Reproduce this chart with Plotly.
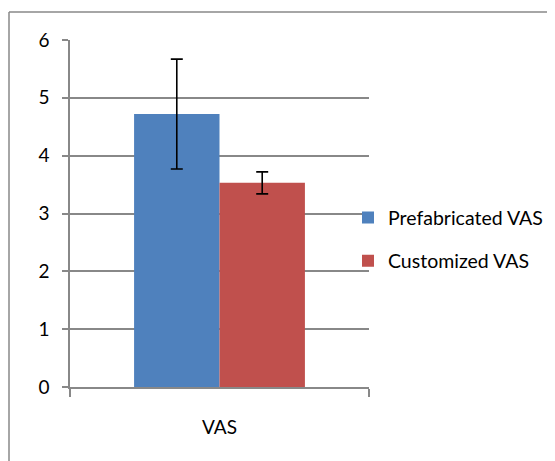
import plotly.graph_objects as go

categories = ["VAS"]
series_names = ["Prefabricated VAS", "Customized VAS"]
prefab_values = [4.72]
prefab_err = [0.95]
custom_values = [3.53]
custom_err = [0.19]
y_ticks = [0, 1, 2, 3, 4, 5, 6]

colors = ["#4F81BD", "#C0504D"]
grid = "#888888"
font_family = "Lato, 'Open Sans', sans-serif"

# page body has an 8px margin, so the figure is sized to fit the window
W, H = 547, 453
L, R, T, B = 62, 186, 32, 73.7
pw = W - L - R
ph = H - T - B

fig = go.Figure()
for name, vals, errs, col in [
    (series_names[0], prefab_values, prefab_err, colors[0]),
    (series_names[1], custom_values, custom_err, colors[1]),
]:
    fig.add_trace(go.Bar(
        x=categories, y=vals, name=name, marker_color=col,
        marker_line_width=0, legendgroup=name,
        error_y=dict(type="data", array=errs, visible=True,
                     color="black", thickness=1.6, width=6),
    ))

fig.update_layout(
    width=W, height=H,
    margin=dict(l=L, r=R, t=T, b=B, autoexpand=False),
    paper_bgcolor="white", plot_bgcolor="white",
    barmode="group", bargap=0.4286, bargroupgap=0,
    font=dict(family=font_family, size=19, color="black"),
    legend=dict(x=(340 - L) / pw, y=(379.3 - 231.5) / ph, xanchor="left",
                yanchor="middle",
                traceorder="grouped", tracegroupgap=15,
                font=dict(size=19.5), bgcolor="rgba(0,0,0,0)"),
    showlegend=True,
)
fig.update_xaxes(
    showline=True, linecolor=grid, linewidth=1.5,
    ticks="outside", tickson="boundaries", ticklen=8, tickcolor=grid,
    tickwidth=1.5, showgrid=False, ticklabelstandoff=22,
    tickfont=dict(size=19),
)
fig.update_yaxes(
    range=[0, 6], tickvals=y_ticks, showline=True, linecolor=grid,
    linewidth=1.5, ticks="outside", ticklen=6, tickcolor=grid, tickwidth=1.5,
    showgrid=True, gridcolor=grid, gridwidth=1.5, zeroline=False,
    ticklabelstandoff=9, tickfont=dict(size=19),
)
# chart outer border (top and left edges visible)
bx = (1 - L) / pw
by = (H - B - 4) / ph
fig.add_shape(type="line", xref="paper", yref="paper",
              x0=bx, x1=2.0, y0=by, y1=by,
              line=dict(color=grid, width=1.5))
fig.add_shape(type="line", xref="paper", yref="paper",
              x0=bx, x1=bx, y0=-0.5, y1=by,
              line=dict(color=grid, width=1.5))

fig.write_html("out.html")
